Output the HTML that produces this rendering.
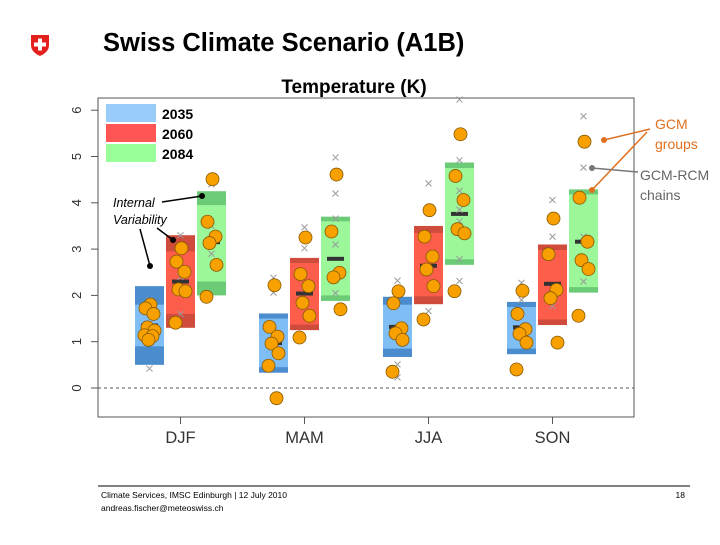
<!DOCTYPE html>
<html><head><meta charset="utf-8"><style>
html,body{margin:0;padding:0;background:#fff;}
body{width:720px;height:540px;overflow:hidden;position:relative;font-family:"Liberation Sans",sans-serif;}
</style></head><body>
<svg id="s" width="720" height="540" viewBox="0 0 720 540" xmlns="http://www.w3.org/2000/svg">
  <g>
    <path d="M31 35 H49 V45 Q49 52 40 56 Q31 52 31 45 Z" fill="#e3201b"/>
    <rect x="38" y="38.5" width="4" height="12" fill="#fff"/>
    <rect x="34" y="42.5" width="12" height="4" fill="#fff"/>
  </g>
  <text x="103" y="51" font-size="25.5" font-weight="bold" fill="#000">Swiss Climate Scenario (A1B)</text>
  <text x="354" y="93" font-size="19" font-weight="bold" text-anchor="middle" fill="#000">Temperature (K)</text>
  <rect x="98" y="98" width="536" height="319" fill="none" stroke="#555" stroke-width="1"/>
  <g id="chart"></g>
  <line x1="98" y1="486" x2="690" y2="486" stroke="#000" stroke-width="1"/>
  <text x="101" y="498" font-size="8.5" fill="#000">Climate Services, IMSC Edinburgh | 12 July 2010</text>
  <text x="101" y="511" font-size="8.5" fill="#000">andreas.fischer@meteoswiss.ch</text>
  <text x="685" y="498" font-size="8.5" text-anchor="end" fill="#000">18</text>
</svg>
<script>
const seasons = ["DJF","MAM","JJA","SON"];
const periods = ["2035","2060","2084"];
// [low, innerLow, median, innerHigh, high] per season, per period
const boxes = [
  [[0.5,0.9,1.35,1.8,2.2],[1.3,1.6,2.3,2.95,3.3],[2.0,2.3,3.15,3.95,4.25]],
  [[0.33,0.45,0.97,1.5,1.61],[1.25,1.37,2.04,2.7,2.81],[1.88,2.0,2.79,3.6,3.70]],
  [[0.67,0.85,1.32,1.8,1.97],[1.81,1.98,2.64,3.35,3.5],[2.66,2.78,3.76,4.75,4.87]],
  [[0.73,0.85,1.31,1.75,1.86],[1.36,1.48,2.25,2.98,3.10],[2.06,2.18,3.16,4.18,4.29]]
];
const gcmDots = [
  [[1.80,1.72,1.60,1.31,1.24,1.14,1.12,1.04],[3.02,2.73,2.51,2.13,2.09,1.41],[4.51,3.59,3.27,3.13,2.66,1.97]],
  [[2.22,1.32,1.11,0.96,0.75,0.48,-0.22],[3.25,2.46,2.20,1.84,1.56,1.09],[4.61,3.38,2.49,2.39,1.70]],
  [[2.09,1.83,1.29,1.18,1.04,0.35],[3.84,3.27,2.84,2.56,2.20,1.48],[5.48,4.58,4.06,3.43,3.34,2.09]],
  [[2.10,1.60,1.27,1.17,0.98,0.40],[3.66,2.89,2.12,1.94,0.98],[5.32,4.11,3.16,2.76,2.57,1.56]]
];
const rcmCrosses = [
  [[0.42,1.6,1.9],[3.3,1.6,2.4],[4.4,3.5,2.9]],
  [[2.38,2.06],[3.47,3.02,2.2],[4.98,4.20,3.66,3.10,2.05]],
  [[2.32,0.51,0.23],[4.42,1.66,2.5],[6.23,4.92,4.26,3.85,3.60,2.78,2.31]],
  [[2.27,1.9],[4.06,3.27,1.77],[5.87,4.76,3.27,2.30]]
];
const yTicks = [0,1,2,3,4,5,6];

const NS="http://www.w3.org/2000/svg";
const g=document.getElementById('chart');
const yScale=v=>388-v*46.3;
const xScale=(si,pi)=>180+si*124-30.5+pi*31;
function mk(tag,attrs){const e=document.createElementNS(NS,tag);for(const k in attrs)e.setAttribute(k,attrs[k]);g.appendChild(e);return e;}
const light=["#7fbdf5","#fd5e4c","#9cf79a"], dark=["#4a8ccd","#cf4c3c","#6ccb76"];

yTicks.forEach(t=>{
  const y=yScale(t);
  const l=mk('line',{x1:91,x2:98,y1:y,y2:y,stroke:'#555'});
  
  
  const tx=mk('text',{x:0,y:0,transform:`translate(81,${y}) rotate(-90)`,'font-size':13,'text-anchor':'middle',fill:'#333'});
  tx.textContent=t;
  
  
});
const zl=mk('line',{x1:98,x2:634,y1:yScale(0),y2:yScale(0),stroke:'#555','stroke-dasharray':'3,3'});



seasons.forEach((s,si)=>{
  const cx=xScale(si,1);
  const t=mk('line',{x1:cx,x2:cx,y1:417,y2:424,stroke:'#555'});
  
  
  const lb=mk('text',{x:cx,y:443,'font-size':16.5,'text-anchor':'middle',fill:'#333'});
  lb.textContent=s;
  
  
  periods.forEach((p,pi)=>{
    const b=boxes[si][pi], x=xScale(si,pi)-14.5, w=29;
    const r=mk('rect',{x:x,y:yScale(b[4]),width:w,height:yScale(b[0])-yScale(b[4]),fill:dark[pi]});
    
    
    const ri=mk('rect',{x:x,y:yScale(b[3]),width:w,height:yScale(b[1])-yScale(b[3]),fill:light[pi]});
    
    
    const m=mk('rect',{x:x+6,y:yScale(b[2])-2,width:17,height:4,fill:'#333'});
    
    
  });
});
seasons.forEach((s,si)=>periods.forEach((p,pi)=>{
  const cx=xScale(si,pi);
  rcmCrosses[si][pi].forEach(v=>{
    const y=yScale(v);
    const c=mk('path',{d:`M${cx-3} ${y-3}L${cx+3} ${y+3}M${cx-3} ${y+3}L${cx+3} ${y-3}`,stroke:'#999','stroke-width':1,fill:'none'});
    
    
  });
}));
const jit=[1,-4,4,-2,5,-5,3,-1];
seasons.forEach((s,si)=>periods.forEach((p,pi)=>{
  const cx=xScale(si,pi);
  gcmDots[si][pi].forEach((v,k)=>{
    const c=mk('circle',{cx:cx+jit[k%8],cy:yScale(v),r:6.5,fill:'#f7a000',stroke:'#8a5a00','stroke-width':0.8});
    
    
  });
}));

[["2035","#99ccf8"],["2060","#ff5555"],["2084","#99ff99"]].forEach((d,i)=>{
  const r=mk('rect',{x:106,y:104+i*20,width:50,height:18,fill:d[1]});
  
  
  const t=mk('text',{x:162,y:119+i*20,'font-size':14,'font-weight':'bold',fill:'#000'});
  t.textContent=d[0];
  
  
});
const a1=mk('text',{x:113,y:207,'font-size':12.5,'font-style':'italic',fill:'#000'});a1.textContent='Internal';


const a2=mk('text',{x:113,y:224,'font-size':12.5,'font-style':'italic',fill:'#000'});a2.textContent='Variability';


[[140,229,150,266],[157,228,173,240],[162,202,202,196]].forEach(l=>{
  const e=mk('line',{x1:l[0],y1:l[1],x2:l[2],y2:l[3],stroke:'#000','stroke-width':1.5});
  
  
  const d=mk('circle',{cx:l[2],cy:l[3],r:3,fill:'#000'});
  
  
});
[[650,129,604,140,'#e07020'],[647,132,592,190,'#e07020'],[638,172,592,168,'#777']].forEach(l=>{
  const e=mk('line',{x1:l[0],y1:l[1],x2:l[2],y2:l[3],stroke:l[4],'stroke-width':1.5});
  
  
  const d=mk('circle',{cx:l[2],cy:l[3],r:3,fill:l[4]});
  
  
});
[["GCM",655,129,'#e07020'],["groups",655,149,'#e07020'],["GCM-RCM",640,180,'#666'],["chains",640,200,'#666']].forEach(d=>{
  const t=mk('text',{x:d[1],y:d[2],'font-size':14,fill:d[3]});
  t.textContent=d[0];
  
  
});
</script>
</body></html>
